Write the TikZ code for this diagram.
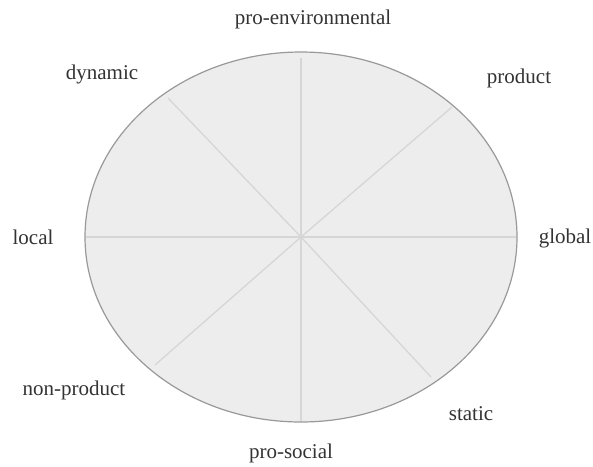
\documentclass[tikz,border=0pt]{standalone}
\usepackage{fontspec}
\setmainfont{Liberation Serif}
\begin{document}
\begin{tikzpicture}[x=1pt,y=-1pt,
  lbl/.style={font=\fontsize{21}{24}\selectfont, text=black!80, inner sep=0pt, anchor=center},
  spoke/.style={draw=black!16, line width=1.3pt},
  rim/.style={draw=black!40, line width=1.2pt, fill=black!7}]
\useasboundingbox (0,0) rectangle (593,466);
\fill[white] (0,0) rectangle (593,466);
\draw[rim] (301,237) ellipse [x radius=216pt, y radius=185pt];
\coordinate (c) at (301,237);
\coordinate (n) at (301,58);
\coordinate (s) at (301,421);
\coordinate (w) at (86,237);
\coordinate (e) at (516,237);
\coordinate (nw) at (168,98);
\coordinate (ne) at (452,107);
\coordinate (se) at (431,377);
\coordinate (sw) at (155,365);
\foreach \p in {n,s,w,e,nw,ne,se,sw} \draw[spoke] (c) -- (\p);
\node[lbl] (penv) at (313,19) {pro-environmental};
\node[lbl] (dyn) at (102,74) {dynamic};
\node[lbl] (prod) at (519,78) {product};
\node[lbl] (loc) at (33,237) {local};
\node[lbl] (glob) at (565,238) {global};
\node[lbl] (nprod) at (74,390) {non-product};
\node[lbl] (stat) at (471,414) {static};
\node[lbl] (psoc) at (291,453) {pro-social};
\end{tikzpicture}
\end{document}
